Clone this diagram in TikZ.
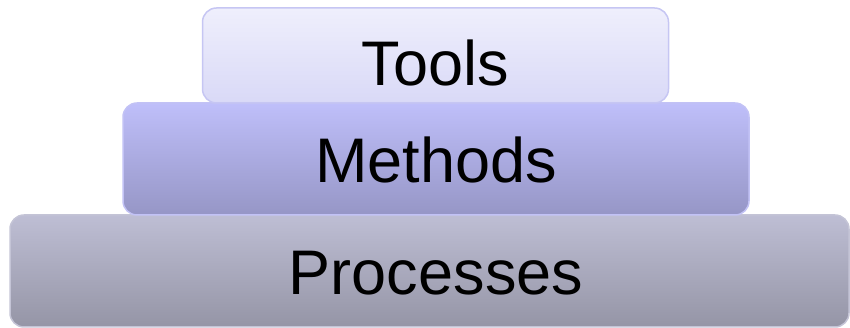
\documentclass[tikz,border=0pt]{standalone}
\usepackage{fontspec}
\setmainfont{Liberation Sans}
\usetikzlibrary{positioning}

\definecolor{toolsTop}{HTML}{EFEFFC}
\definecolor{toolsBot}{HTML}{D9D9F7}
\definecolor{toolsLine}{HTML}{C6C6F3}
\definecolor{methTop}{HTML}{BFBFFA}
\definecolor{methBot}{HTML}{9696C6}
\definecolor{methLine}{HTML}{C2C2F5}
\definecolor{procTop}{HTML}{BEBED4}
\definecolor{procBot}{HTML}{9595A6}
\definecolor{procLine}{HTML}{C4C4D6}

\begin{document}
\begin{tikzpicture}[x=1pt,y=1pt,node distance=0pt,line width=1.5pt,layer node/.style={rectangle,rounded corners=14pt,draw,inner sep=0pt,outer sep=0pt,font=\fontsize{63}{70}\selectfont,text height=80pt,text depth=32pt}]
		\useasboundingbox (0,0) rectangle (850,328);
		\node[layer node,minimum width=839pt,top color=procTop,bottom color=procBot,draw=procLine] (1) at (429.5,57) {\hspace*{13pt}Processes};
		\node[layer node,minimum width=626pt,top color=methTop,bottom color=methBot,draw=methLine] (2) [above=0pt of 1,xshift=6.5pt] {Methods};
		\node[layer node,minimum width=466pt,text height=78pt,text depth=17pt,top color=toolsTop,bottom color=toolsBot,draw=toolsLine] (3) [above=0pt of 2,xshift=-0.5pt] {Tools};
\end{tikzpicture}
\end{document}
